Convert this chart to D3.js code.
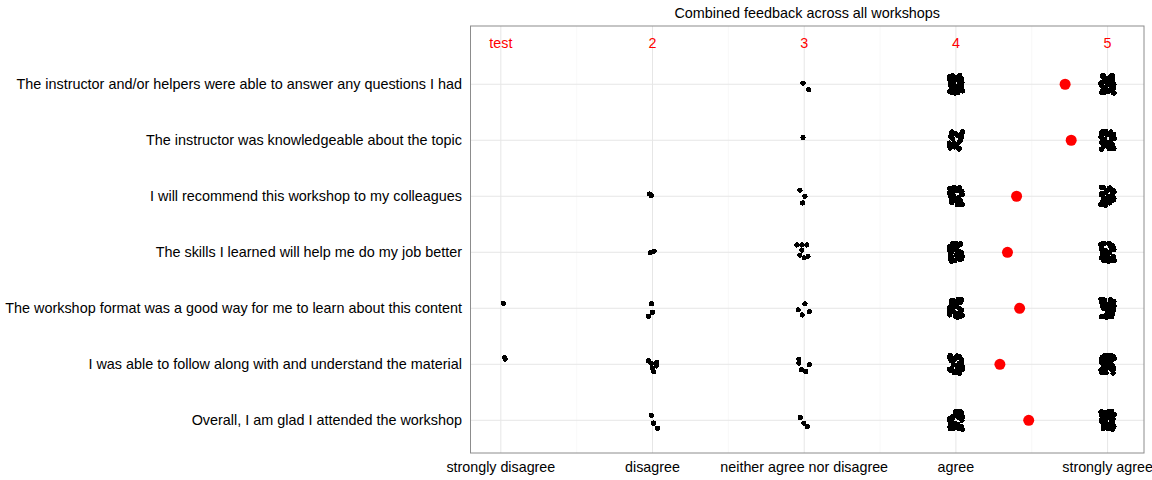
<!DOCTYPE html>
<html>
<head>
<meta charset="utf-8">
<script src="https://cdn.jsdelivr.net/npm/d3@7"></script>
<style>
  html, body { margin: 0; padding: 0; background: #fff; }
  svg text { font-family: "Liberation Sans", Arial, sans-serif; }
</style>
</head>
<body>
<svg id="chart" width="1152" height="480"></svg>
<script>
// ---------- data ----------
const title = "Combined feedback across all workshops";
// questions, top to bottom
const questions = [
  "The instructor and/or helpers were able to answer any questions I had",
  "The instructor was knowledgeable about the topic",
  "I will recommend this workshop to my colleagues",
  "The skills I learned will help me do my job better",
  "The workshop format was a good way for me to learn about this content",
  "I was able to follow along with and understand the material",
  "Overall, I am glad I attended the workshop"
];
const levelLabels = ["strongly disagree", "disagree", "neither agree nor disagree", "agree", "strongly agree"];
const levelValues = [1, 2, 3, 4, 5];
const annotationLabels = ["test", "2", "3", "4", "5"];
// mean score per question (red dots)
const means = [4.72, 4.76, 4.40, 4.34, 4.42, 4.29, 4.48];

// sparse responses read individually: [questionIndex, response, xJitter, yJitter]
const sparsePoints = [
  [0, 3, -0.008, 0.02], [0, 3, 0.030, -0.10],
  [1, 3, -0.008, 0.05],
  [2, 2, -0.020, 0.04], [2, 2, -0.008, 0.01],
  [2, 3, -0.028, 0.11], [2, 3, 0.005, 0.00], [2, 3, -0.010, -0.12],
  [3, 2, -0.015, -0.01], [3, 2, 0.011, 0.02],
  [3, 3, -0.048, 0.13], [3, 3, -0.015, 0.13], [3, 3, 0.018, 0.13], [3, 3, -0.015, 0.04],
  [3, 3, -0.028, -0.05], [3, 3, 0.000, -0.10], [3, 3, 0.025, -0.07],
  [4, 1, 0.017, 0.09],
  [4, 2, -0.007, 0.08], [4, 2, 0.000, -0.07], [4, 2, -0.026, -0.14],
  [4, 3, 0.005, 0.08], [4, 3, -0.040, -0.03], [4, 3, 0.033, -0.06], [4, 3, -0.013, -0.12],
  [5, 1, 0.028, 0.09], [5, 1, 0.024, 0.12],
  [5, 2, -0.026, 0.06], [5, 2, -0.008, 0.02], [5, 2, 0.029, 0.03], [5, 2, 0.025, -0.03],
  [5, 2, 0.000, -0.07], [5, 2, 0.007, -0.13],
  [5, 3, -0.035, 0.09], [5, 3, -0.035, 0.02], [5, 3, 0.033, -0.01], [5, 3, -0.017, -0.10], [5, 3, 0.010, -0.13],
  [6, 2, -0.009, 0.09], [6, 2, 0.007, -0.05], [6, 2, 0.033, -0.14],
  [6, 3, -0.026, 0.05], [6, 3, -0.002, -0.05], [6, 3, 0.020, -0.11]
];
// counts of "agree" (4) and "strongly agree" (5) answers per question (dense clusters)
const agreeCounts =         [30, 24, 28, 30, 31, 32, 30];
const stronglyAgreeCounts = [40, 40, 38, 38, 40, 40, 40];
// hand-read offset pattern that the dense clusters are spread over
const jitterDX = [-0.040, 0.012, -0.015, 0.038, -0.028, 0.025, 0.002, -0.042, 0.035, -0.010,
                  0.020, -0.033, 0.043, -0.005, 0.028, -0.022, 0.008, -0.038, 0.040, -0.018,
                  0.015, -0.030, 0.032, 0.000, -0.044, 0.022, -0.012, 0.036, -0.026, 0.010,
                  -0.036, 0.030, -0.006, 0.018, -0.040, 0.042, -0.020, 0.006, 0.026, -0.032];
const jitterDY = [0.14, -0.15, 0.02, 0.10, -0.08, 0.16, -0.04, -0.13, -0.02, 0.11,
                  -0.10, 0.05, -0.12, -0.16, 0.07, 0.15, 0.12, -0.01, 0.03, -0.07,
                  -0.14, 0.13, -0.09, 0.08, 0.09, 0.01, -0.11, -0.05, -0.15, -0.06,
                  0.06, 0.15, 0.16, 0.04, -0.11, -0.15, 0.00, -0.08, 0.10, -0.03];

// ---------- layout ----------
const svg = d3.select("#chart");
const panel = { left: 470.5, right: 1144, top: 26, bottom: 453 };
const x = d3.scaleLinear().domain([0.8, 5.24]).range([panel.left, panel.right]);
const nQ = questions.length;
// question i (0 = top) sits at position nQ - i
const y = d3.scaleLinear().domain([0.416, 8.04]).range([panel.bottom, panel.top]);
const qPos = i => nQ - i;
const annotationPos = 7.74;

// grid
const g = svg.append("g");
const minor = [1.5, 2.5, 3.5, 4.5];
g.selectAll("line.minor").data(minor).enter().append("line")
  .attr("x1", d => x(d)).attr("x2", d => x(d))
  .attr("y1", panel.top).attr("y2", panel.bottom)
  .attr("stroke", "#f3f3f3").attr("stroke-width", 0.6);
g.selectAll("line.vmajor").data(levelValues).enter().append("line")
  .attr("x1", d => x(d)).attr("x2", d => x(d))
  .attr("y1", panel.top).attr("y2", panel.bottom)
  .attr("stroke", "#e6e6e6").attr("stroke-width", 1);
g.selectAll("line.hmajor").data(questions).enter().append("line")
  .attr("x1", panel.left).attr("x2", panel.right)
  .attr("y1", (d, i) => y(qPos(i))).attr("y2", (d, i) => y(qPos(i)))
  .attr("stroke", "#e6e6e6").attr("stroke-width", 1);

// points
const pts = [];
sparsePoints.forEach(p => pts.push({ q: p[0], v: p[1], dx: p[2], dy: p[3] }));
questions.forEach((q, i) => {
  for (let k = 0; k < agreeCounts[i]; k++) {
    const j = (k + i * 5) % jitterDX.length;
    pts.push({ q: i, v: 4, dx: jitterDX[j], dy: jitterDY[(j + 3 * i) % jitterDY.length] });
  }
  for (let k = 0; k < stronglyAgreeCounts[i]; k++) {
    const j = (k + i * 7 + 2) % jitterDX.length;
    pts.push({ q: i, v: 5, dx: jitterDX[j], dy: jitterDY[(j + 5 * i + 1) % jitterDY.length] });
  }
});
svg.append("g").selectAll("circle").data(pts).enter().append("circle")
  .attr("cx", d => x(d.v + d.dx))
  .attr("cy", d => y(qPos(d.q) + d.dy))
  .attr("r", 2.6)
  .attr("fill", "#000")
  .attr("shape-rendering", "crispEdges");

// means
svg.append("g").selectAll("circle").data(means).enter().append("circle")
  .attr("cx", d => x(d))
  .attr("cy", (d, i) => y(qPos(i)))
  .attr("r", 5.5)
  .attr("fill", "#ff0000");

// annotation labels
svg.append("g").selectAll("text").data(annotationLabels).enter().append("text")
  .attr("x", (d, i) => x(levelValues[i]))
  .attr("y", y(annotationPos))
  .attr("dy", "0.35em")
  .attr("text-anchor", "middle")
  .attr("fill", "#ff0000")
  .attr("font-size", 14.3)
  .text(d => d);

// panel border
svg.append("rect")
  .attr("x", panel.left).attr("y", panel.top)
  .attr("width", panel.right - panel.left).attr("height", panel.bottom - panel.top)
  .attr("fill", "none").attr("stroke", "#8c8c8c").attr("stroke-width", 1);

// y axis labels
svg.append("g").selectAll("text").data(questions).enter().append("text")
  .attr("x", 462)
  .attr("y", (d, i) => y(qPos(i)))
  .attr("dy", "0.35em")
  .attr("text-anchor", "end")
  .attr("font-size", 14.4)
  .attr("fill", "#000")
  .text(d => d);

// x axis labels
svg.append("g").selectAll("text").data(levelLabels).enter().append("text")
  .attr("x", (d, i) => x(levelValues[i]))
  .attr("y", 467)
  .attr("dy", "0.35em")
  .attr("text-anchor", "middle")
  .attr("font-size", 14.3)
  .attr("fill", "#000")
  .text(d => d);

// title
svg.append("text")
  .attr("x", (panel.left + panel.right) / 2)
  .attr("y", 13)
  .attr("dy", "0.35em")
  .attr("text-anchor", "middle")
  .attr("font-size", 14.4)
  .attr("fill", "#000")
  .text(title);
</script>
</body>
</html>
